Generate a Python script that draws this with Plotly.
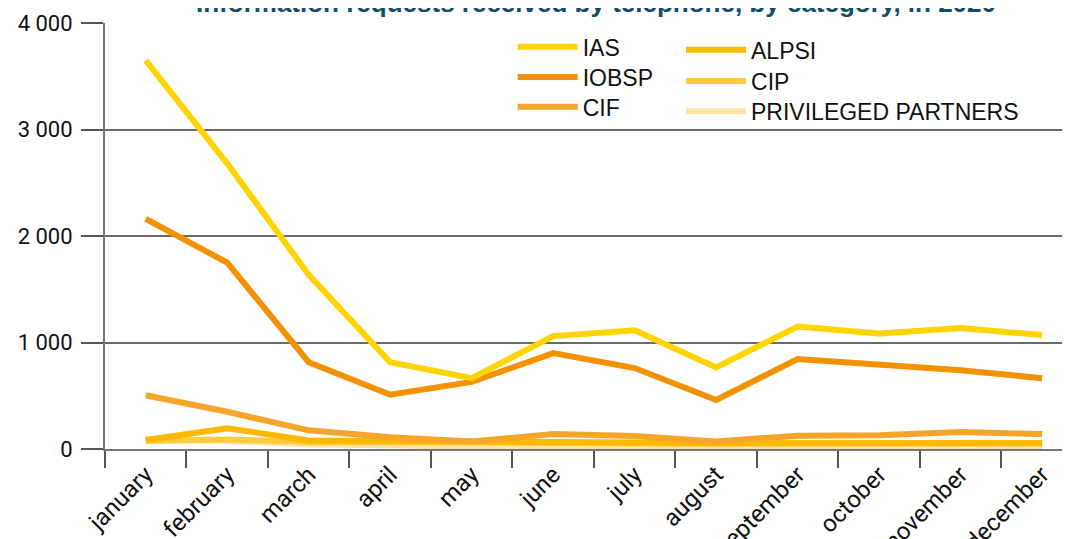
import plotly.graph_objects as go

months = ["january", "february", "march", "april", "may", "june", "july",
          "august", "september", "october", "november", "december"]

ias = [3650, 2680, 1635, 815, 665, 1060, 1115, 765, 1150, 1085, 1135, 1070]
iobsp = [2160, 1750, 815, 510, 630, 900, 760, 460, 845, 795, 740, 665]
cif = [505, 350, 175, 110, 70, 140, 122, 70, 125, 130, 160, 140]
alpsi = [85, 195, 80, 72, 62, 60, 60, 55, 58, 58, 56, 56]
cip = [75, 90, 65, 60, 55, 55, 55, 50, 55, 55, 52, 52]
privileged = [90, 75, 45, 30, 22, 20, 20, 18, 20, 20, 20, 20]

names = ["IAS", "IOBSP", "CIF", "ALPSI", "CIP", "PRIVILEGED PARTNERS"]
values = [ias, iobsp, cif, alpsi, cip, privileged]
colors = ["#FFD400", "#F39200", "#F5A62A", "#FDB800", "#FFCC3D", "#FDE3A8"]
legend_ids = ["legend", "legend2", "legend3", "legend4", "legend5", "legend6"]
# legend placement (paper coords): two columns of three entries
legend_x = [0.419, 0.419, 0.419, 0.592, 0.592, 0.592]
legend_y = [0.944, 0.873, 0.803, 0.937, 0.864, 0.793]

fig = go.Figure()
for idx in [5, 4, 3, 2, 1, 0]:
    fig.add_trace(go.Scatter(
        x=months, y=values[idx], name=names[idx], mode="lines",
        line=dict(color=colors[idx], width=6),
        legend=legend_ids[idx],
    ))

legend_layout = {}
for lid, lx, ly in zip(legend_ids, legend_x, legend_y):
    legend_layout[lid] = dict(
        x=lx, y=ly, xanchor="left", yanchor="middle",
        font=dict(family="Liberation Sans, Arial, sans-serif", size=23, color="#111111"),
        bgcolor="rgba(0,0,0,0)", itemwidth=60,
    )

# the page body adds an 8px offset, margins compensate for it
fig.update_layout(
    width=1070, height=539,
    margin=dict(l=97, r=0, t=15, b=98, autoexpand=False),
    plot_bgcolor="white", paper_bgcolor="white",
    separators=", ",
    showlegend=True,
    xaxis=dict(
        type="category", categoryorder="array", categoryarray=months,
        range=[-0.5, 11.44], tickson="boundaries", automargin=False,
        ticks="outside", ticklen=17, tickcolor="#555555", tickwidth=1.5,
        showgrid=False, showline=True, linecolor="#777777", linewidth=2,
        tickangle=-45,
        tickfont=dict(family="Roboto, sans-serif", size=24, color="#111111"),
    ),
    yaxis=dict(
        range=[0, 4000], tickvals=[0, 1000, 2000, 3000, 4000],
        tickformat=",d", automargin=False,
        ticks="outside", ticklen=22, tickcolor="#555555", tickwidth=1.5,
        ticklabelstandoff=4,
        showgrid=True, gridcolor="#6a6a6a", gridwidth=1.5,
        showline=True, linecolor="#777777", linewidth=2,
        zeroline=False,
        tickfont=dict(family="Roboto, sans-serif", size=22, color="#111111"),
    ),
    annotations=[dict(
        text="<b>Information requests received by telephone, by category, in 2020</b>",
        xref="paper", yref="paper", x=0.505, y=1.046,
        xanchor="center", yanchor="middle", showarrow=False,
        font=dict(family="Liberation Sans, Roboto, sans-serif", size=26, color="#0d4f6b"),
    )],
    **legend_layout,
)

fig.write_html("out.html")
